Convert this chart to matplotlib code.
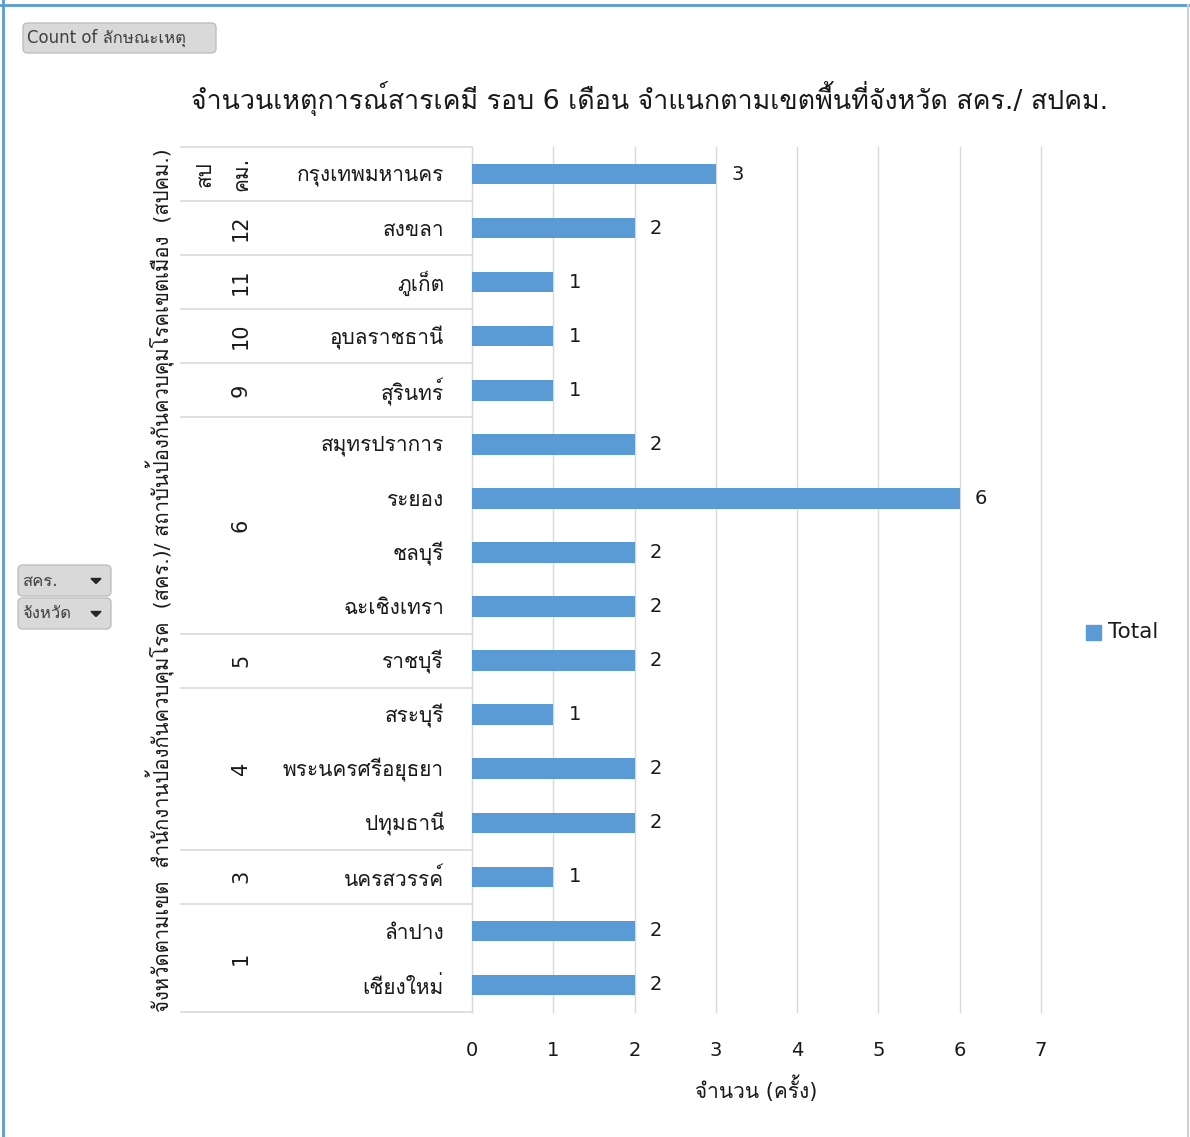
import matplotlib
matplotlib.use("Agg")
import matplotlib.pyplot as plt
from matplotlib import font_manager
from matplotlib.ft2font import FT2Font
from matplotlib.patches import FancyBboxPatch, Rectangle, Polygon
from matplotlib.lines import Line2D
import matplotlib.transforms as mtransforms

# ---------------- data ----------------
provinces = ["กรุงเทพมหานคร", "สงขลา", "ภูเก็ต", "อุบลราชธานี", "สุรินทร์",
             "สมุทรปราการ", "ระยอง", "ชลบุรี", "ฉะเชิงเทรา", "ราชบุรี",
             "สระบุรี", "พระนครศรีอยุธยา", "ปทุมธานี", "นครสวรรค์",
             "ลำปาง", "เชียงใหม่"]
counts = [3, 2, 1, 1, 1, 2, 6, 2, 2, 2, 1, 2, 2, 1, 2, 2]
region_labels = ["คม.", "12", "11", "10", "9", "6", "5", "4", "3", "1"]
region_sizes = [1, 1, 1, 1, 1, 4, 1, 3, 1, 2]
top_level_label = "สป"
x_ticks = [0, 1, 2, 3, 4, 5, 6, 7]
title = "จำนวนเหตุการณ์สารเคมี รอบ 6 เดือน จำแนกตามเขตพื้นที่จังหวัด สคร./ สปคม."
x_label = "จำนวน (ครั้ง)"
y_label = "จังหวัดตามเขต  สำนักงานป้องกันควบคุมโรค  (สคร.)/ สถาบันป้องกันควบคุมโรคเขตเมือง  (สปคม.)"
series_name = "Total"
field_button = "Count of ลักษณะเหตุ"
row_buttons = ["สคร.", "จังหวัด"]

# ---------------- fonts ----------------
thai_fonts = []
for f in font_manager.fontManager.ttflist:
    try:
        if 0x0E01 in FT2Font(f.fname).get_charmap():
            if f.name not in thai_fonts:
                thai_fonts.append(f.name)
    except Exception:
        pass
families = ["DejaVu Sans"] + thai_fonts
plt.rcParams["font.family"] = families

W, H = 1190, 1137
fig = plt.figure(figsize=(W / 100, H / 100), dpi=100)
fig.patch.set_facecolor("white")

def fx(x):
    return x / W

def fy(y):
    return 1 - y / H

TXT = "#1a1a1a"
BAR = "#5B9BD5"
GRID = "#D9D9D9"

# plot area
left, right, top, bottom = 472, 1041, 147, 1012
ax = fig.add_axes([fx(left), fy(bottom), fx(right) - fx(left), fy(top) - fy(bottom)])
n = len(provinces)
ypos = list(range(n))
bars = ax.barh(ypos, counts, height=0.38, color=BAR, zorder=3)
ax.set_xlim(0, 7)
ax.set_ylim(n - 0.5, -0.5)
ax.set_xticks(x_ticks)
ax.set_xticklabels([str(t) for t in x_ticks], fontsize=14, color=TXT)
ax.tick_params(axis="x", length=0, pad=21)
ax.set_yticks([])
ax.grid(axis="x", color=GRID, linewidth=1, zorder=0)
for gl in ax.get_xgridlines():
    gl.set_clip_on(False)
for s in ["top", "right", "bottom"]:
    ax.spines[s].set_visible(False)
ax.spines["left"].set_color(GRID)
ax.bar_label(bars, labels=[str(c) for c in counts], padding=11, fontsize=14, color=TXT)
ax.set_xlabel(x_label, fontsize=15, color=TXT, labelpad=11)

# table of labels
tr = mtransforms.blended_transform_factory(fig.transFigure, ax.transData)
tab_left = 181
boundaries = [-0.5]
acc = 0
for s in region_sizes:
    acc += s
    boundaries.append(acc - 0.5)
for b in boundaries:
    fig.add_artist(Line2D([fx(tab_left), fx(left)], [b, b], transform=tr,
                          color=GRID, linewidth=1.2))
for i, p in enumerate(provinces):
    fig.text(fx(444), i + 0.03, p, transform=tr, ha="right", va="center",
             fontsize=15, color=TXT)
start = 0
for lab, s in zip(region_labels, region_sizes):
    mid = start + (s - 1) / 2
    fig.text(fx(241), mid, lab, transform=tr, ha="center", va="center",
             rotation=90, fontsize=15, color=TXT)
    start += s
fig.text(fx(205), 0, top_level_label, transform=tr, ha="center", va="center",
         rotation=90, fontsize=15, color=TXT)

# y axis title
fig.text(fx(160), fy(580), y_label, ha="center", va="center", rotation=90,
         fontsize=14.6, color=TXT)

# title
fig.text(fx(650), fy(98), title, ha="center", va="center", fontsize=19.3, color=TXT)

# legend
fig.add_artist(Rectangle((fx(1086), fy(640)), fx(15), fy(625) - fy(640),
                         transform=fig.transFigure, color=BAR))
fig.text(fx(1108), fy(632), series_name, ha="left", va="center", fontsize=15.5, color=TXT)

# buttons
def button(x0, y0, x1, y1, label, arrow=False, fs=12):
    fig.add_artist(FancyBboxPatch((fx(x0), fy(y1)), fx(x1 - x0), fy(y0) - fy(y1),
                                  boxstyle="round,pad=0,rounding_size=0.004",
                                  transform=fig.transFigure, facecolor="#D9D9D9",
                                  edgecolor="#BFBFBF", linewidth=1))
    fig.text(fx(x0 + 4), fy((y0 + y1) / 2), label, ha="left", va="center",
             fontsize=fs, color="#404040")
    if arrow:
        cx, cy = x1 - 15, (y0 + y1) / 2
        fig.add_artist(Polygon([(fx(cx - 5), fy(cy - 2)), (fx(cx + 5), fy(cy - 2)),
                                (fx(cx), fy(cy + 3))], closed=True,
                               transform=fig.transFigure, color="#262626"))

button(23, 23, 216, 53, field_button)
button(18, 565, 111, 596, row_buttons[0], arrow=True)
button(18, 598, 111, 629, row_buttons[1], arrow=True)

# outer frame
fig.add_artist(Line2D([fx(3), fx(3)], [0, 1], transform=fig.transFigure, color="#5B9BD5", linewidth=2))
fig.add_artist(Line2D([0, 1], [fy(5), fy(5)], transform=fig.transFigure, color="#5B9BD5", linewidth=2))
fig.add_artist(Line2D([fx(1188), fx(1188)], [0, fy(5)], transform=fig.transFigure, color="#D0D0D0", linewidth=1.5))

fig.savefig("out.png", dpi=100, facecolor="white")
